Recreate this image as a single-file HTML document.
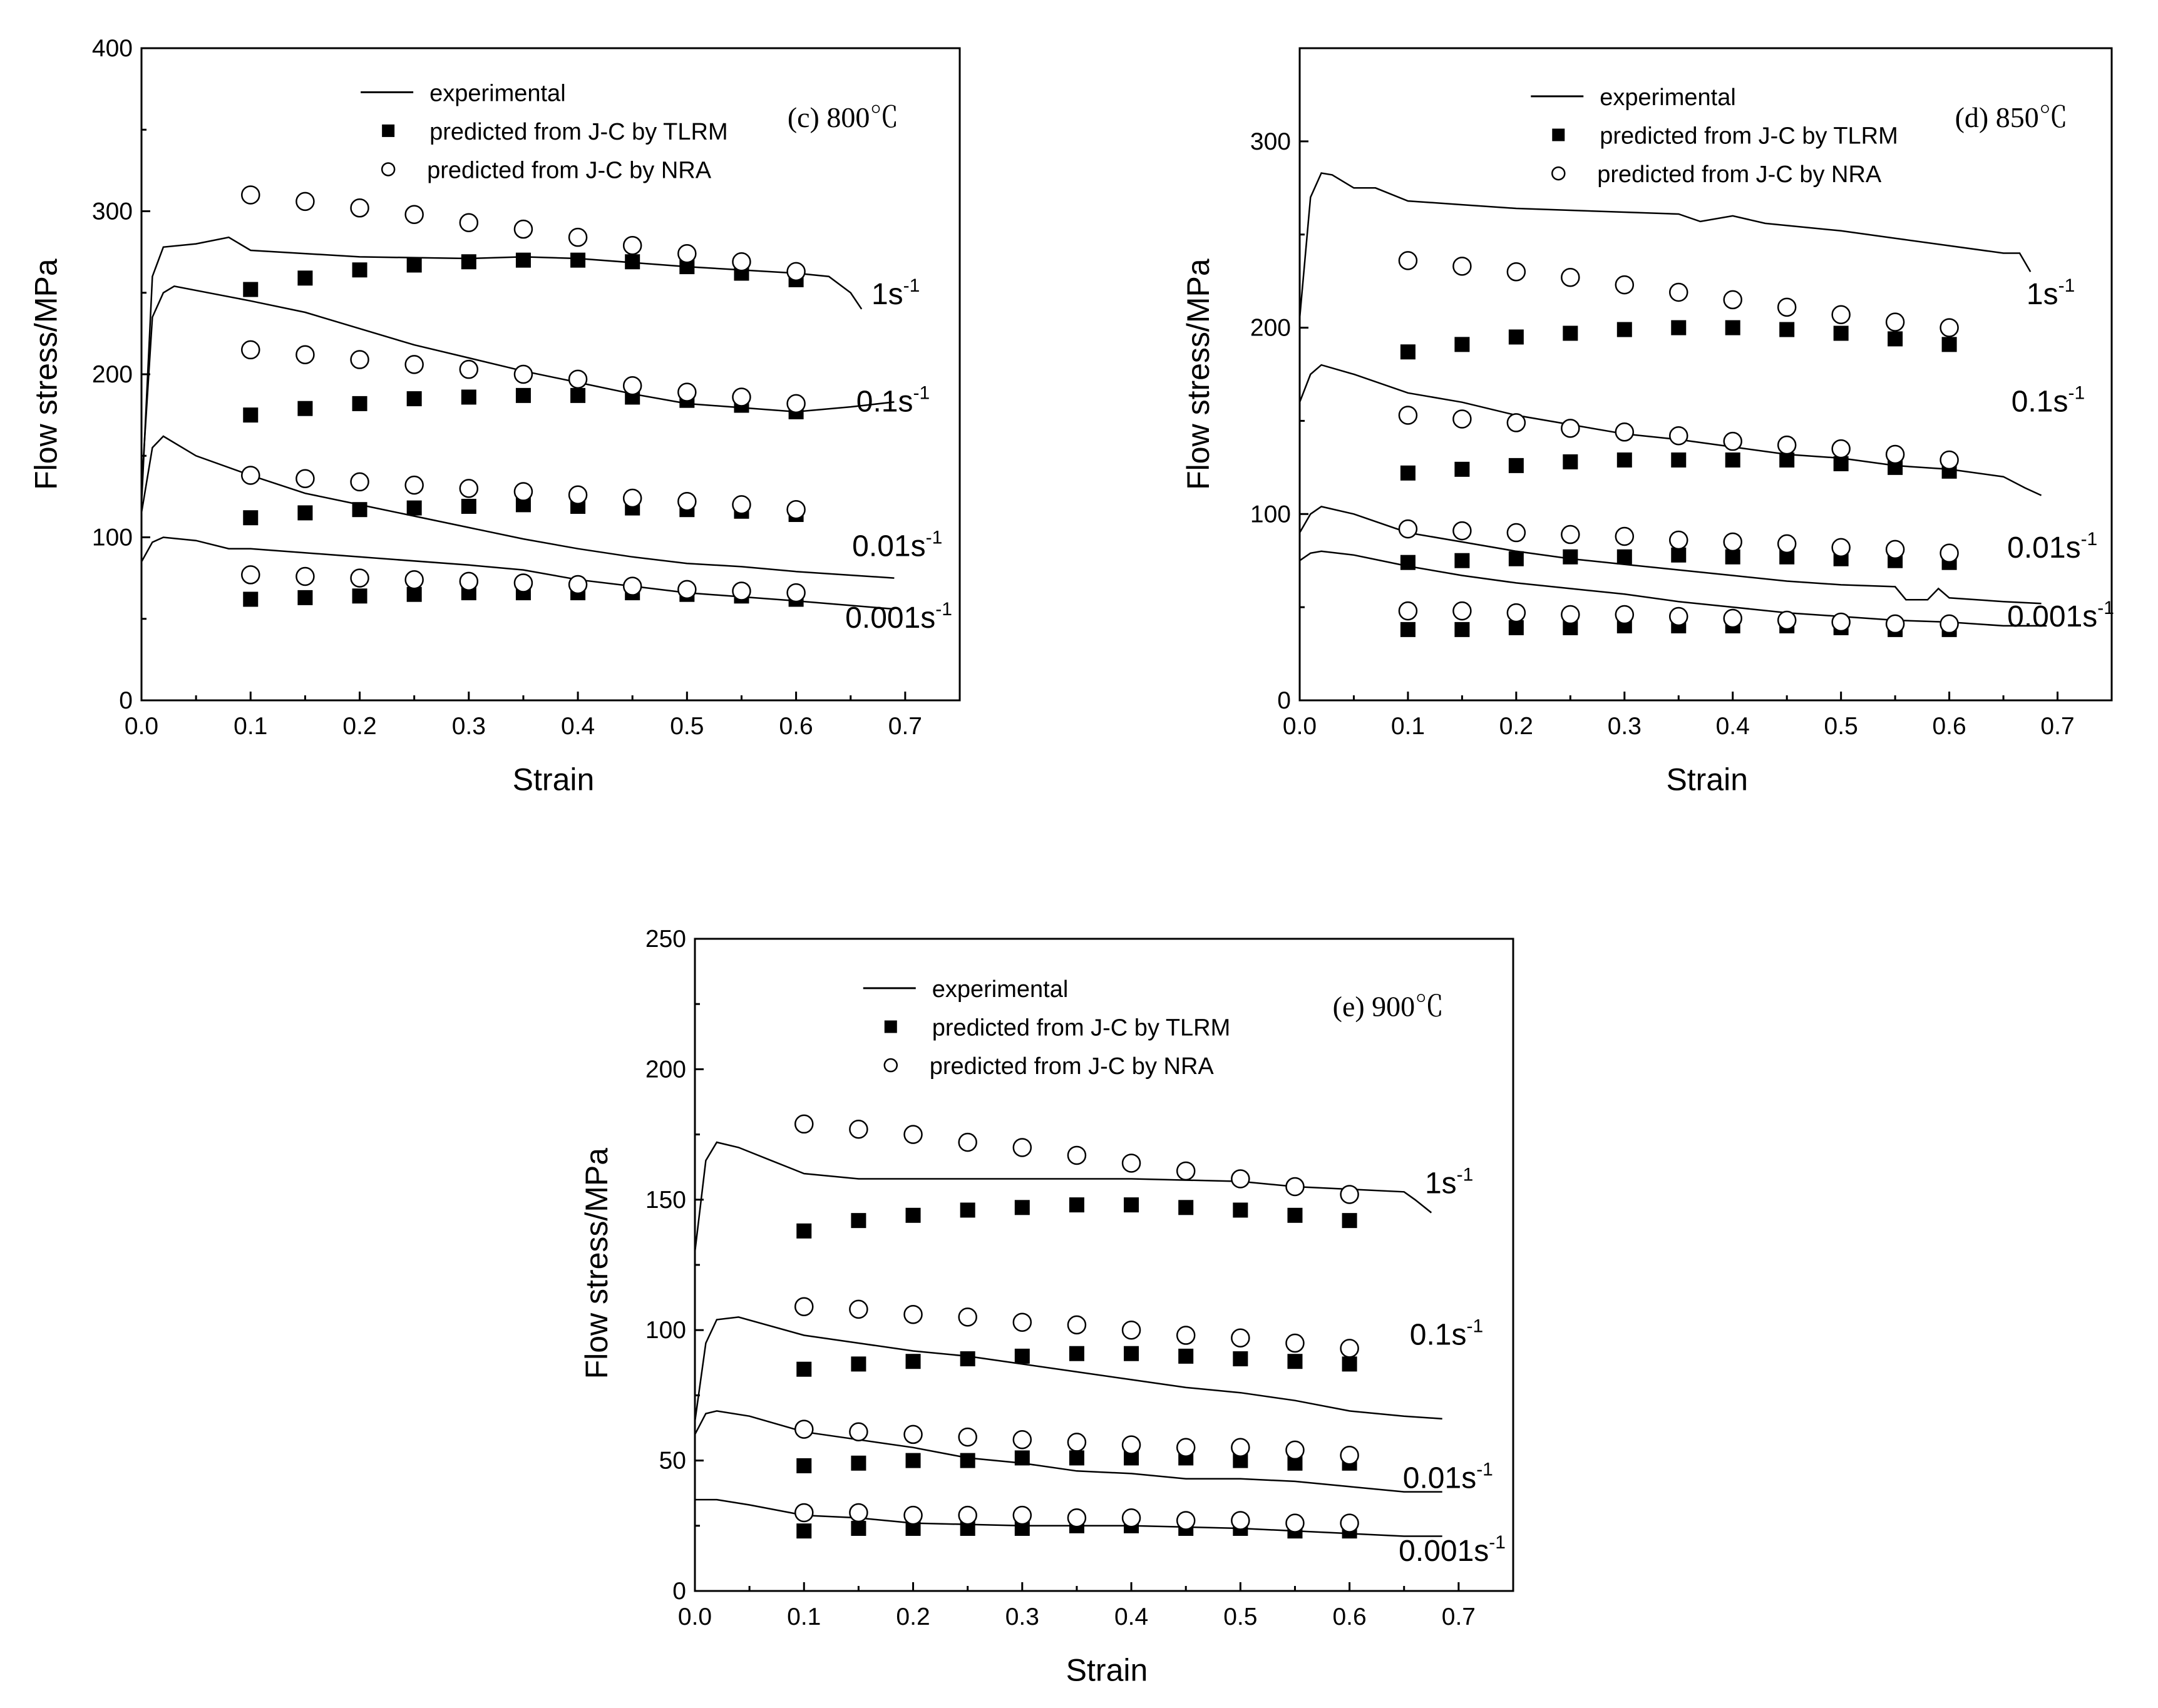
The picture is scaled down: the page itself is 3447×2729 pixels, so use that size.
<!DOCTYPE html>
<html><head><meta charset="utf-8"><style>
html,body{margin:0;padding:0;background:#fff;}
svg{display:block;}
text{font-family:"Liberation Sans",Arial,sans-serif;fill:#000;}
.serif{font-family:"Liberation Serif","Noto Serif CJK SC",serif;}
</style></head><body>
<svg id="fig" width="3447" height="2729" viewBox="0 0 3447 2729" xmlns="http://www.w3.org/2000/svg"></svg>
<script>
const strainPts = [0.1,0.15,0.2,0.25,0.3,0.35,0.4,0.45,0.5,0.55,0.6];
const xTickLabels = ["0.0","0.1","0.2","0.3","0.4","0.5","0.6","0.7"];
const rateLabels = ["1s","0.1s","0.01s","0.001s"];

// Panel c 800C
const cYTicks = [0,100,200,300,400];
const cExp1 = [[0,120],[0.01,260],[0.02,278],[0.05,280],[0.08,284],[0.1,276],[0.2,272],[0.3,271],[0.35,272],[0.4,271],[0.5,266],[0.6,262],[0.63,260],[0.65,250],[0.66,240]];
const cExp01 = [[0,130],[0.01,235],[0.02,250],[0.03,254],[0.1,245],[0.15,238],[0.2,228],[0.25,218],[0.3,210],[0.35,202],[0.4,195],[0.45,188],[0.5,182],[0.6,177],[0.65,180],[0.69,183]];
const cExp001 = [[0,115],[0.01,155],[0.02,162],[0.05,150],[0.1,138],[0.15,127],[0.2,120],[0.25,113],[0.3,106],[0.35,99],[0.4,93],[0.45,88],[0.5,84],[0.55,82],[0.6,79],[0.69,75]];
const cExp0001 = [[0,85],[0.01,97],[0.02,100],[0.05,98],[0.08,93],[0.1,93],[0.2,88],[0.3,83],[0.35,80],[0.4,74],[0.45,70],[0.5,66],[0.6,61],[0.69,56]];
const cSq1 = [252,259,264,267,269,270,270,269,266,262,258];
const cCi1 = [310,306,302,298,293,289,284,279,274,269,263];
const cSq01 = [175,179,182,185,186,187,187,186,184,181,177];
const cCi01 = [215,212,209,206,203,200,197,193,189,186,182];
const cSq001 = [112,115,117,118,119,120,119,118,117,116,114];
const cCi001 = [138,136,134,132,130,128,126,124,122,120,117];
const cSq0001 = [62,63,64,65,66,66,66,66,65,64,62];
const cCi0001 = [77,76,75,74,73,72,71,70,68,67,66];

// Panel d 850C
const dYTicks = [0,100,200,300];
const dExp1 = [[0,205],[0.01,270],[0.02,283],[0.03,282],[0.05,275],[0.07,275],[0.1,268],[0.15,266],[0.2,264],[0.25,263],[0.3,262],[0.35,261],[0.37,257],[0.4,260],[0.43,256],[0.5,252],[0.55,248],[0.6,244],[0.65,240],[0.665,240],[0.675,230]];
const dExp01 = [[0,160],[0.01,175],[0.02,180],[0.05,175],[0.1,165],[0.15,160],[0.2,153],[0.25,148],[0.3,143],[0.35,140],[0.4,136],[0.45,132],[0.5,130],[0.55,126],[0.6,124],[0.65,120],[0.67,114],[0.685,110]];
const dExp001 = [[0,90],[0.01,100],[0.02,104],[0.05,100],[0.1,90],[0.15,85],[0.2,80],[0.25,76],[0.3,73],[0.35,70],[0.4,67],[0.45,64],[0.5,62],[0.55,61],[0.56,54],[0.58,54],[0.59,60],[0.6,55],[0.65,53],[0.685,52]];
const dExp0001 = [[0,75],[0.01,79],[0.02,80],[0.05,78],[0.1,72],[0.15,67],[0.2,63],[0.25,60],[0.3,57],[0.35,53],[0.4,50],[0.45,47],[0.5,45],[0.55,43],[0.6,42],[0.65,40],[0.69,40]];
const dSq1 = [187,191,195,197,199,200,200,199,197,194,191];
const dCi1 = [236,233,230,227,223,219,215,211,207,203,200];
const dSq01 = [122,124,126,128,129,129,129,129,127,125,123];
const dCi01 = [153,151,149,146,144,142,139,137,135,132,129];
const dSq001 = [74,75,76,77,77,78,77,77,76,75,74];
const dCi001 = [92,91,90,89,88,86,85,84,82,81,79];
const dSq0001 = [38,38,39,39,40,40,40,40,39,38,38];
const dCi0001 = [48,48,47,46,46,45,44,43,42,41,41];

// Panel e 900C
const eYTicks = [0,50,100,150,200,250];
const eExp1 = [[0,130],[0.01,165],[0.02,172],[0.04,170],[0.07,165],[0.1,160],[0.15,158],[0.2,158],[0.3,158],[0.4,158],[0.5,157],[0.55,155],[0.6,154],[0.65,153],[0.66,150],[0.675,145]];
const eExp01 = [[0,65],[0.01,95],[0.02,104],[0.04,105],[0.1,98],[0.15,95],[0.2,92],[0.25,90],[0.3,87],[0.35,84],[0.4,81],[0.45,78],[0.5,76],[0.55,73],[0.6,69],[0.65,67],[0.685,66]];
const eExp001 = [[0,60],[0.01,68],[0.02,69],[0.05,67],[0.1,61],[0.15,58],[0.2,55],[0.25,51],[0.3,49],[0.35,46],[0.4,45],[0.45,43],[0.5,43],[0.55,42],[0.6,40],[0.65,38],[0.685,38]];
const eExp0001 = [[0,35],[0.02,35],[0.05,33],[0.1,29],[0.15,28],[0.2,26],[0.3,25],[0.4,25],[0.5,24],[0.6,22],[0.65,21],[0.685,21]];
const eSq1 = [138,142,144,146,147,148,148,147,146,144,142];
const eCi1 = [179,177,175,172,170,167,164,161,158,155,152];
const eSq01 = [85,87,88,89,90,91,91,90,89,88,87];
const eCi01 = [109,108,106,105,103,102,100,98,97,95,93];
const eSq001 = [48,49,50,50,51,51,51,51,50,49,49];
const eCi001 = [62,61,60,59,58,57,56,55,55,54,52];
const eSq0001 = [23,24,24,24,24,25,25,24,24,23,23];
const eCi0001 = [30,30,29,29,29,28,28,27,27,26,26];

const NS = "http://www.w3.org/2000/svg";
const svg = document.getElementById('fig');
const S = 2.199;
function mk(tag, attrs, parent){const e=document.createElementNS(NS,tag);for(const k in attrs)e.setAttribute(k,attrs[k]);(parent||svg).appendChild(e);return e;}

const panels = [
 {id:'c', L:226,R:1533,T:77,B:1119, ymax:400, yTicks:cYTicks, minor:50,
  exps:[cExp1,cExp01,cExp001,cExp0001], sqs:[cSq1,cSq01,cSq001,cSq0001], cis:[cCi1,cCi01,cCi001,cCi0001],
  rl:[[633,212],[622,290],[619,395],[614,447]], leg:[262,67], title:'(c)  800℃', tpos:[572,85], ytx:33, yty:272, xtx:402, xty:566},
 {id:'d', L:2076,R:3373,T:77,B:1119, ymax:350, yTicks:dYTicks, minor:50,
  exps:[dExp1,dExp01,dExp001,dExp0001], sqs:[dSq1,dSq01,dSq001,dSq0001], cis:[dCi1,dCi01,dCi001,dCi0001],
  rl:[[1472,212],[1461,290],[1458,396],[1458,446]], leg:[1112,70], title:'(d)  850℃', tpos:[1420,85], ytx:870, yty:272, xtx:1240, xty:566},
 {id:'e', L:1110,R:2417,T:1500,B:2542, ymax:250, yTicks:eYTicks, minor:25,
  exps:[eExp1,eExp01,eExp001,eExp0001], sqs:[eSq1,eSq01,eSq001,eSq0001], cis:[eCi1,eCi01,eCi001,eCi0001],
  rl:[[1035,858],[1024,968],[1019,1072],[1016,1125]], leg:[627,718], title:'(e)  900℃', tpos:[968,731], ytx:433, yty:918, xtx:804, xty:1213}
];

panels.forEach(p=>{
  const g = mk('g',{});
  
  
  const sx = v => p.L + v/0.75*(p.R-p.L);
  const sy = v => p.B - v/p.ymax*(p.B-p.T);
  const frame = mk('rect',{x:p.L,y:p.T,width:p.R-p.L,height:p.B-p.T,fill:'none',stroke:'#000','stroke-width':3},g);
  
  
  for(let i=0;i<=15;i++){
    const v=i*0.05, x=sx(v), len=(i%2===0)?14:8;
    mk('line',{x1:x,y1:p.B,x2:x,y2:p.B-len,stroke:'#000','stroke-width':3},g);
  }
  xTickLabels.forEach((t,i)=>{
    const tl = mk('text',{x:sx(i*0.1),y:p.B+54,'font-size':39,'text-anchor':'middle'},g);
    tl.textContent=t;
    
    
  });
  for(let v=0; v<=p.ymax+0.01; v+=p.minor){
    const y=sy(v), major=p.yTicks.indexOf(v)>=0;
    mk('line',{x1:p.L,y1:y,x2:p.L+(major?14:8),y2:y,stroke:'#000','stroke-width':3},g);
  }
  p.yTicks.forEach(v=>{
    const tl = mk('text',{x:p.L-14,y:sy(v)+13,'font-size':39,'text-anchor':'end'},g);
    tl.textContent=v;
    
    
  });
  const xt = mk('text',{x:p.xtx*S,y:p.xty*S+18,'font-size':50,'text-anchor':'middle'},g);
  xt.textContent='Strain';
  
  
  const yt = mk('text',{x:0,y:0,'font-size':50,'text-anchor':'middle',transform:`translate(${p.ytx*S+18},${p.yty*S}) rotate(-90)`},g);
  yt.textContent='Flow stress/MPa';
  
  
  p.exps.forEach((arr,k)=>{
    const d = arr.map((pt,i)=>(i?'L':'M')+sx(pt[0]).toFixed(1)+','+sy(pt[1]).toFixed(1)).join(' ');
    const path = mk('path',{d:d,fill:'none',stroke:'#000','stroke-width':2.5},g);
    
    
  });
  p.sqs.forEach((arr,k)=>{
    arr.forEach((v,i)=>{
      const r = mk('rect',{x:sx(strainPts[i])-12,y:sy(v)-12,width:24,height:24,fill:'#000'},g);
      
      
    });
  });
  p.cis.forEach((arr,k)=>{
    arr.forEach((v,i)=>{
      const c = mk('circle',{cx:sx(strainPts[i]),cy:sy(v),r:14,fill:'#fff',stroke:'#000','stroke-width':2.5},g);
      
      
    });
  });
  p.rl.forEach((pos,k)=>{
    const t = mk('text',{x:pos[0]*S,y:pos[1]*S+20,'font-size':48},g);
    t.textContent=rateLabels[k];
    const sup = mk('tspan',{dy:-20,'font-size':30},t);
    sup.textContent='-1';
    
    
  });
  const lx=p.leg[0]*S, ly=p.leg[1]*S;
  const lg = mk('g',{},g);
  
  
  mk('line',{x1:lx,y1:ly,x2:lx+84,y2:ly,stroke:'#000','stroke-width':3},lg);
  mk('rect',{x:lx+44-10,y:ly+28*S-10,width:20,height:20,fill:'#000'},lg);
  mk('circle',{cx:lx+44,cy:ly+56*S,r:10,fill:'#fff',stroke:'#000','stroke-width':2.5},lg);
  const labels=['experimental','predicted from J-C by TLRM','predicted from J-C by NRA'];
  labels.forEach((s,i)=>{
    const t = mk('text',{x:lx+(50*S)+(i===2?-4:0),y:ly+i*28*S+14,'font-size':38},lg);
    t.textContent=s;
    
    
  });
  const tt = mk('text',{x:p.tpos[0]*S,y:p.tpos[1]*S+16,'font-size':46,'class':'serif'},g);
  tt.textContent=p.title;
  
  
});
</script>
</body></html>
